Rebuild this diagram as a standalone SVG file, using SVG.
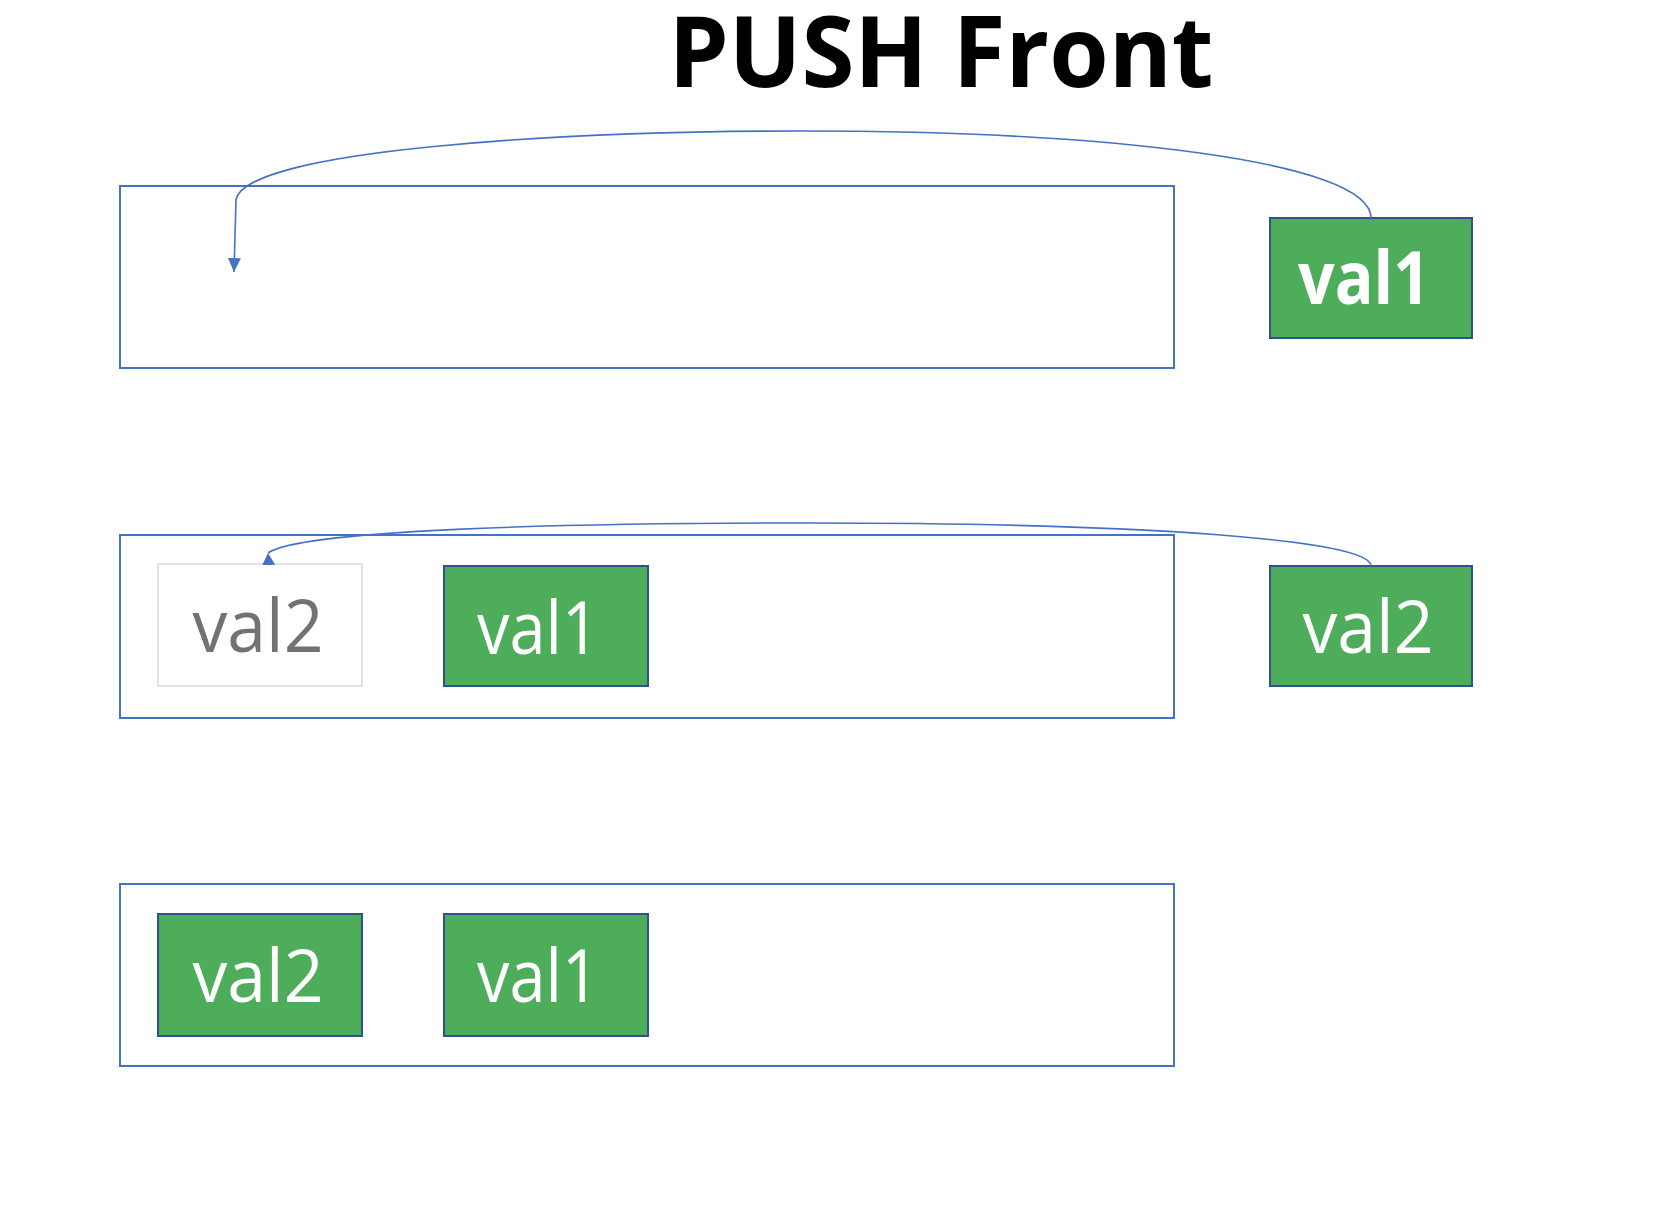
<svg xmlns="http://www.w3.org/2000/svg" width="1661" height="1211" viewBox="0 0 1661 1211">
<style>
.frame{fill:none;stroke:#4472C4;stroke-width:2}
.val{fill:#4EAD5B;stroke:#2F528F;stroke-width:2}
.ghost{fill:#FFFFFF;stroke:#E4E4E4;stroke-width:2}
.lbl{font-family:"Open Sans","Noto Sans","Liberation Sans",sans-serif;font-size:74px;fill:#FFFFFF;text-anchor:middle}
.bold{font-weight:bold}
.grey{fill:#767171}
.title{font-family:"Open Sans","Noto Sans","Liberation Sans",sans-serif;font-size:98px;font-weight:bold;fill:#000000;text-anchor:middle}
.conn{fill:none;stroke:#4472C4;stroke-width:1.6}
</style>
<defs>
<marker id="arrowDown" markerUnits="userSpaceOnUse" markerWidth="14" markerHeight="13" viewBox="0 0 14 13" refX="14" refY="6.5" orient="auto">
<path d="M0,0 L14,6.5 L0,13 Z" fill="#4472C4"/>
</marker>
<marker id="arrowUp" markerUnits="userSpaceOnUse" markerWidth="12" markerHeight="13" viewBox="0 0 12 13" refX="12" refY="6.5" orient="-93">
<path d="M0,0 L12,6.5 L0,13 Z" fill="#4472C4"/>
</marker>
</defs>
<rect width="1661" height="1211" fill="#FFFFFF"/>
<g id="title"><text class="title" x="941" y="87" textLength="545" lengthAdjust="spacingAndGlyphs">PUSH Front</text></g>
<g id="frame1"><rect class="frame" x="120" y="186" width="1054" height="182"/></g>
<g id="frame2"><rect class="frame" x="120" y="535" width="1054" height="183"/></g>
<g id="frame3"><rect class="frame" x="120" y="884" width="1054" height="182"/></g>
<g id="row1-val1"><rect class="val" x="1270" y="218" width="202" height="120"/><text class="lbl bold" x="1364" y="304" textLength="132" lengthAdjust="spacingAndGlyphs">val1</text></g>
<g id="row2-ghost-val2"><rect class="ghost" x="158" y="564" width="204" height="122"/><text class="lbl grey" x="258" y="652" textLength="131" lengthAdjust="spacingAndGlyphs">val2</text></g>
<g id="row2-val1"><rect class="val" x="444" y="566" width="204" height="120"/><text class="lbl" x="538" y="654" textLength="122" lengthAdjust="spacingAndGlyphs">val1</text></g>
<g id="row2-val2"><rect class="val" x="1270" y="566" width="202" height="120"/><text class="lbl" x="1368" y="653" textLength="131" lengthAdjust="spacingAndGlyphs">val2</text></g>
<g id="row3-val2"><rect class="val" x="158" y="914" width="204" height="122"/><text class="lbl" x="258" y="1002" textLength="131" lengthAdjust="spacingAndGlyphs">val2</text></g>
<g id="row3-val1"><rect class="val" x="444" y="914" width="204" height="122"/><text class="lbl" x="538" y="1002" textLength="122" lengthAdjust="spacingAndGlyphs">val1</text></g>
<g id="connectors">
<path class="conn" d="M1371,218 C1371,160 1100,131 800,131 C560,131 245,150 236,200 L234,272" marker-end="url(#arrowDown)"/>
<path class="conn" d="M1371,566 C1371,540 1150,523 806,523 C560,523 300,530 268,553" marker-end="url(#arrowUp)"/>
</g>
</svg>
